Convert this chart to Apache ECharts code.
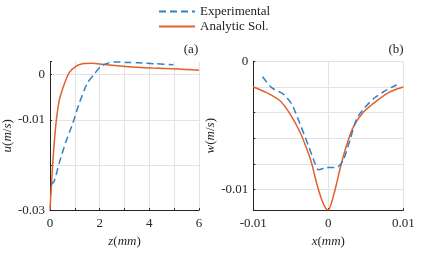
<!DOCTYPE html>
<html>
<head>
<meta charset="utf-8">
<script src="https://cdn.jsdelivr.net/npm/echarts@6/dist/echarts.min.js"></script>
<style>
html,body{margin:0;padding:0;background:#fff;}
#chart{width:421px;height:253px;}
</style>
</head>
<body>
<div id="chart"></div>
<script>
// ---- Data ----
// Panel (a): u vs z
const zExp = [0.05, 0.17, 0.37, 0.64, 0.91, 1.17, 1.51, 1.77, 2.04, 2.37, 2.64, 3.1, 3.57, 4.24, 4.97];
const uExp = [-0.0243, -0.0236, -0.0196, -0.0149, -0.0109, -0.0065, -0.0018, 0.0000, 0.0018, 0.0026, 0.0028, 0.0027, 0.0026, 0.0024, 0.0022];
const zAna = [0, 0.06, 0.13, 0.24, 0.37, 0.57, 0.77, 1.04, 1.31, 1.71, 2.1, 3.04, 4.1, 5.17, 6];
const uAna = [-0.0299, -0.0245, -0.0181, -0.0109, -0.0058, -0.0022, 0.0004, 0.0018, 0.0024, 0.0025, 0.0023, 0.0018, 0.00145, 0.00123, 0.00094];
// Panel (b): w vs x
const xExp = [-0.00876, -0.00756, -0.006, -0.00489, -0.00378, -0.00267, -0.00178, -0.00133, -0.00022, 0.0012, 0.002, 0.00289, 0.00378, 0.00489, 0.00622, 0.00778, 0.00911];
const wExp = [-0.0012, -0.00205, -0.00256, -0.00333, -0.00487, -0.00654, -0.00795, -0.00846, -0.00828, -0.00826, -0.00769, -0.00615, -0.00449, -0.00359, -0.00282, -0.00223, -0.00185];
const xAna = [-0.01, -0.00822, -0.00644, -0.00511, -0.00378, -0.00289, -0.00222, -0.00156, -0.00089, -0.00031, 0, 0.00044, 0.00102, 0.00164, 0.00244, 0.00333, 0.00467, 0.00644, 0.00822, 0.01];
const wAna = [-0.002, -0.00244, -0.00308, -0.0041, -0.00551, -0.0068, -0.00795, -0.00949, -0.01077, -0.01149, -0.0116, -0.011, -0.00974, -0.0082, -0.00654, -0.00513, -0.00397, -0.00308, -0.00238, -0.002];
// Tick labels to show
const aXLabels = [0, 2, 4, 6];
const aYLabels = [0, -0.01, -0.03];
const bXLabels = [-0.01, 0, 0.01];
const bYLabels = [0, -0.01];
const seriesNames = ['Experimental', 'Analytic Sol.'];

const zip = (a, b) => a.map((v, i) => [v, b[i]]);
const FONT = 'Liberation Serif';
const BLUE = '#2f83c4';
const RED = '#e2602c';
const AX = '#262626';
const GRID = '#e3e3e3';

function fmt(list) {
  return function (v) {
    for (const t of list) {
      if (Math.abs(v - t) < 1e-9) return t === 0 ? '0' : String(t);
    }
    return '';
  };
}
const labelStyle = {color: AX, fontFamily: FONT, fontSize: 13};
const nameStyle = {
  color: AX, fontFamily: FONT, fontSize: 13,
  rich: {i: {fontStyle: 'italic', fontFamily: FONT, fontSize: 13, color: AX}}
};
function axisBase() {
  return {
    axisLine: {show: true, onZero: false, lineStyle: {color: AX, width: 1}},
    axisTick: {show: true, inside: true, length: 2, lineStyle: {color: AX}},
    splitLine: {show: true, lineStyle: {color: GRID, width: 1}},
    nameLocation: 'middle',
    nameTextStyle: nameStyle
  };
}

const chart = echarts.init(document.getElementById('chart'), null, {renderer: 'canvas'});
const option = {
  animation: false,
  backgroundColor: '#fff',
  legend: {
    orient: 'vertical',
    left: 153, top: 0,
    itemWidth: 36, itemHeight: 12, itemGap: 2,
    data: seriesNames,
    itemStyle: {opacity: 0},
    textStyle: {fontFamily: FONT, fontSize: 13, color: '#222'}
  },
  grid: [
    {left: 49, top: 61.5, width: 150, height: 149.3},
    {left: 253.3, top: 61.3, width: 150, height: 150.4}
  ],
  xAxis: [
    Object.assign(axisBase(), {
      gridIndex: 0, type: 'value', min: 0, max: 6, interval: 1,
      name: '{i|z}({i|mm})', nameGap: 24,
      axisLabel: Object.assign({margin: 7, formatter: fmt(aXLabels)}, labelStyle)
    }),
    Object.assign(axisBase(), {
      gridIndex: 1, type: 'value', min: -0.01, max: 0.01, interval: 0.01,
      name: '{i|x}({i|mm})', nameGap: 24,
      axisLabel: Object.assign({margin: 7, formatter: fmt(bXLabels)}, labelStyle)
    })
  ],
  yAxis: [
    Object.assign(axisBase(), {
      gridIndex: 0, type: 'value', min: -0.03, max: 0.0029, interval: 0.01,
      name: '{i|u}({i|m}/{i|s})', nameGap: 31,
      splitLine: {show: true, showMaxLine: false, lineStyle: {color: GRID, width: 1}},
      axisLabel: Object.assign({margin: 5, formatter: fmt(aYLabels)}, labelStyle)
    }),
    Object.assign(axisBase(), {
      gridIndex: 1, type: 'value', min: -0.0116, max: 0, splitNumber: 6,
      name: '{i|w}({i|m}/{i|s})', nameGap: 28,
      axisLabel: Object.assign({margin: 5, formatter: fmt(bYLabels)}, labelStyle)
    })
  ],
  graphic: [
    {type: 'text', x: 191, y: 50, style: {text: '(a)', font: '13px "Liberation Serif"', fill: AX, align: 'center', verticalAlign: 'middle'}},
    {type: 'text', x: 396, y: 50, style: {text: '(b)', font: '13px "Liberation Serif"', fill: AX, align: 'center', verticalAlign: 'middle'}}
  ],
  series: [
    {name: seriesNames[1], type: 'line', xAxisIndex: 0, yAxisIndex: 0, data: zip(zAna, uAna), smooth: 0.25, symbol: 'none', lineStyle: {color: RED, width: 1.5}, itemStyle: {color: RED}, z: 3},
    {name: seriesNames[0], type: 'line', xAxisIndex: 0, yAxisIndex: 0, data: zip(zExp, uExp), smooth: 0.25, symbol: 'none', lineStyle: {color: BLUE, width: 1.5, type: [7, 4]}, itemStyle: {color: BLUE}, z: 4},
    {name: seriesNames[1], type: 'line', xAxisIndex: 1, yAxisIndex: 1, data: zip(xAna, wAna), smooth: 0.25, symbol: 'none', lineStyle: {color: RED, width: 1.5}, itemStyle: {color: RED}, z: 3},
    {name: seriesNames[0], type: 'line', xAxisIndex: 1, yAxisIndex: 1, data: zip(xExp, wExp), smooth: 0.25, symbol: 'none', lineStyle: {color: BLUE, width: 1.5, type: [7, 4]}, itemStyle: {color: BLUE}, z: 4}
  ]
};
chart.setOption(option);
</script>
</body>
</html>
